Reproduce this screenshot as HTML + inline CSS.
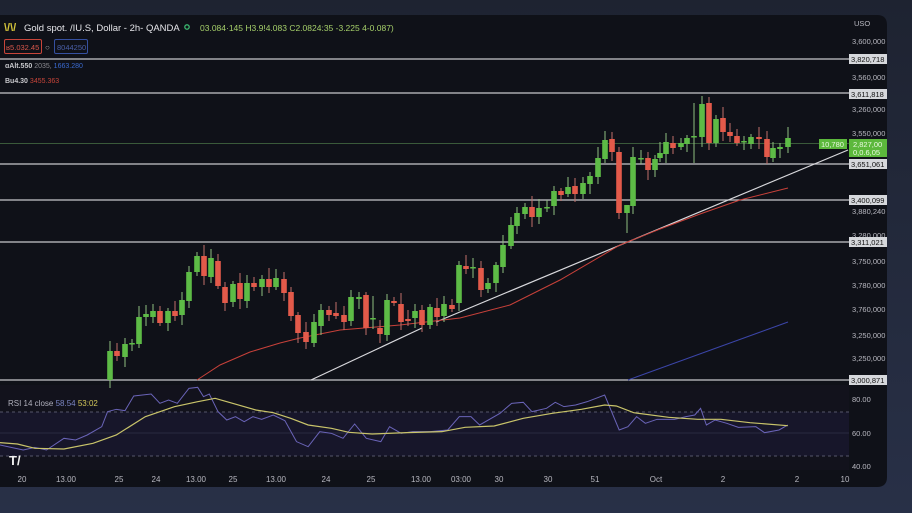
<!DOCTYPE html>
<html><head><meta charset="utf-8"><style>
html,body{margin:0;padding:0;width:912px;height:513px;overflow:hidden;background:#232a3c;font-family:"Liberation Sans",sans-serif}
svg{position:absolute;left:0;top:0}
text{font-family:"Liberation Sans",sans-serif}
</style></head><body>
<svg width="912" height="513" viewBox="0 0 912 513" xmlns="http://www.w3.org/2000/svg">
<defs><linearGradient id="bg" x1="0" y1="0" x2="0" y2="1"><stop offset="0" stop-color="#1e2331"/><stop offset="1" stop-color="#283047"/></linearGradient></defs>
<rect width="912" height="513" fill="url(#bg)"/>
<path d="M0 15 H877 Q887 15 887 25 V477 Q887 487 877 487 H0 Z" fill="#0f1118"/>
<rect x="0" y="385" width="849" height="85" fill="#12121c"/>
<rect x="0" y="412" width="849" height="44" fill="#17162a"/>
<g stroke="#55566a" stroke-dasharray="3,3" stroke-width="1">
<line x1="0" y1="412" x2="849" y2="412"/><line x1="0" y1="456" x2="849" y2="456"/></g>
<line x1="0" y1="433" x2="849" y2="433" stroke="#2a2a40"/>
<g stroke="#c8c8cc" stroke-width="1.2">
<line x1="0" y1="59" x2="849" y2="59"/><line x1="0" y1="93" x2="849" y2="93"/>
<line x1="0" y1="164" x2="849" y2="164"/><line x1="0" y1="200" x2="849" y2="200"/>
<line x1="0" y1="242" x2="849" y2="242"/><line x1="0" y1="380" x2="849" y2="380"/></g>
<line x1="0" y1="143.5" x2="849" y2="143.5" stroke="#3a5a3a" stroke-width="1"/>
<line x1="311" y1="380" x2="422" y2="328" stroke="#d8d8dc" stroke-width="1.2"/>
<line x1="436" y1="322" x2="848" y2="150" stroke="#d8d8dc" stroke-width="1.2"/>
<polyline fill="none" stroke="#c8413a" stroke-width="1" points="197,380 220,365 250,352 280,343 300,338 340,330 400,325 460,318 510,305 560,280 620,245 660,229 700,214 740,200 788,188"/>
<line x1="628" y1="380" x2="788" y2="322" stroke="#3b45a8" stroke-width="1"/>
<g id="c"></g>
<g transform="translate(0,370) scale(0.5814,0.3333)" fill="none">
<polyline vector-effect="non-scaling-stroke" stroke="#6a64b8" stroke-width="1" points="0,225 40,240 60,232 80,240 110,205 130,210 150,195 175,170 185,125 200,118 215,122 230,78 260,72 275,100 290,90 305,100 325,55 340,52 350,80 360,72 375,125 390,150 405,140 420,155 435,140 450,148 470,135 490,152 510,215 530,230 550,185 570,190 590,205 610,162 630,205 655,215 670,170 690,190 710,185 740,185 770,180 790,140 810,140 825,165 860,130 880,100 900,97 915,125 940,115 955,97 970,110 990,105 1010,95 1040,75 1065,180 1080,170 1095,140 1110,160 1130,148 1160,148 1180,140 1195,135 1205,115 1215,165 1230,150 1250,160 1270,172 1300,170 1315,188 1340,180 1355,165"/>
<polyline vector-effect="non-scaling-stroke" stroke="#c9c46a" stroke-width="1.2" points="0,218 30,222 60,235 110,237 160,220 200,195 250,140 300,110 340,95 370,85 400,100 440,120 470,128 500,145 530,165 570,175 600,187 640,192 700,188 760,185 800,172 850,168 900,145 950,130 1000,118 1040,105 1060,108 1090,128 1150,142 1200,148 1240,148 1290,158 1355,167"/>
</g>
<text x="8" y="406" font-size="8" fill="#b0b0bc">RSI 14 close <tspan fill="#7b86c4">58.54</tspan> <tspan fill="#d4c85a">53:02</tspan></text>
<text x="9" y="465" font-size="13" font-weight="bold" fill="#f0f0f0">T/</text>
<g font-size="8" fill="#b8b8c0" text-anchor="middle">
<text x="22" y="482">20</text><text x="66" y="482">13.00</text><text x="119" y="482">25</text><text x="156" y="482">24</text><text x="196" y="482">13.00</text><text x="233" y="482">25</text><text x="276" y="482">13.00</text><text x="326" y="482">24</text><text x="371" y="482">25</text><text x="421" y="482">13.00</text><text x="461" y="482">03:00</text><text x="499" y="482">30</text><text x="548" y="482">30</text><text x="595" y="482">51</text><text x="656" y="482">Oct</text><text x="723" y="482">2</text><text x="797" y="482">2</text><text x="845" y="482">10</text>
</g>
<g font-size="7.5" fill="#b8b8c0">
<text x="854" y="26">USO</text>
<text x="852" y="44">3,600,000</text><text x="852" y="80">3,560,000</text><text x="852" y="112">3,260,000</text><text x="852" y="136">3,550,000</text><text x="852" y="214">3,880,240</text><text x="852" y="238">3,280,000</text><text x="852" y="264">3,750,000</text><text x="852" y="288">3,780,000</text><text x="852" y="312">3,760,000</text><text x="852" y="338">3,250,000</text><text x="852" y="361">3,250,000</text>
<text x="852" y="402">80.00</text><text x="852" y="436">60.00</text><text x="852" y="469">40.00</text>
</g>
<g font-size="7.5" fill="#111">
<rect x="849" y="54" width="38" height="10" fill="#d6d8dc"/><text x="851" y="62">3,820,718</text>
<rect x="849" y="89" width="38" height="10" fill="#d6d8dc"/><text x="851" y="97">3,611,818</text>
<rect x="849" y="159" width="38" height="10" fill="#d6d8dc"/><text x="851" y="167">3,651,061</text>
<rect x="849" y="195" width="38" height="10" fill="#d6d8dc"/><text x="851" y="203">3,400,099</text>
<rect x="849" y="237" width="38" height="10" fill="#d6d8dc"/><text x="851" y="245">3,311,021</text>
<rect x="849" y="375" width="38" height="10" fill="#d6d8dc"/><text x="851" y="383">3,000,871</text>
</g>
<rect x="849" y="139" width="38" height="18" fill="#5cb83c"/>
<rect x="819" y="139" width="28" height="10" fill="#5cb83c"/>
<g font-size="7.5" fill="#e8f8e0"><text x="821" y="147">10,780</text><text x="853" y="147">2,827,00</text><text x="853" y="155">0,0.6,05</text></g>
<text x="4" y="31" font-size="11" font-weight="bold" fill="#d4c43a">\/\/</text>
<text x="24" y="31" font-size="9.5" fill="#e6e6ea">Gold spot. /IU.S, Dollar - 2h- QANDA</text>
<circle cx="187" cy="27" r="2.2" fill="none" stroke="#3bb870" stroke-width="1.3"/>
<text x="200" y="31" font-size="8.5" fill="#a6d06a">03.084·145 H3.9!4.083 C2.0824:35 -3.225 4-0.087)</text>
<rect x="4.5" y="39.5" width="37" height="14" fill="none" stroke="#c8453a" rx="1.5"/>
<text x="6" y="50" font-size="7.5" fill="#d8564a">ʁ5.032.45</text>
<text x="45" y="50" font-size="8" fill="#aaa">○</text>
<rect x="54.5" y="39.5" width="33" height="14" fill="none" stroke="#3550a0" rx="1.5"/>
<text x="57" y="50" font-size="7.5" fill="#4a5fa8">8044250</text>
<text x="5" y="68" font-size="7" fill="#c8c8cc"><tspan font-weight="bold">ɑAlt.550</tspan> <tspan fill="#8a8a90">2035,</tspan> <tspan fill="#3a6ad0">1663.280</tspan></text>
<text x="5" y="83" font-size="7" fill="#c8c8cc"><tspan font-weight="bold">Bu4.30</tspan> <tspan fill="#c8453a">3455.363</tspan></text>
</svg>
<script>
var G="#5dbb46",R="#e35a4a";
var d=[[110,351,380,G],[117,351,356,R],[125,344,357,G],[132,343,344,G],[139,317,344,G],[146,314,317,G],[153,311,317,G],[160,311,323,R],[168,311,323,G],[175,311,316,R],[182,300,315,G],[189,272,301,G],[197,256,272,G],[204,256,276,R],[211,258,277,G],[218,261,286,R],[225,287,303,R],[233,284,302,G],[240,283,299,R],[247,283,301,G],[254,283,287,R],[262,279,287,G],[269,279,287,R],[276,278,287,G],[284,279,293,R],[291,292,316,R],[298,315,333,R],[306,332,342,R],[314,322,343,G],[321,310,326,G],[329,310,315,R],[336,313,316,R],[344,315,322,R],[351,297,321,G],[359,297,299,G],[366,295,328,R],[373,318,319,G],[380,328,334,R],[387,300,335,G],[394,301,303,R],[401,304,322,R],[408,319,321,R],[415,311,318,G],[422,310,325,R],[430,307,325,G],[437,308,317,R],[444,304,316,G],[452,305,309,R],[459,265,303,G],[466,266,269,R],[473,267,268,G],[481,268,290,R],[488,283,289,G],[496,265,283,G],[503,245,267,G],[511,225,246,G],[517,213,226,G],[525,207,214,G],[532,207,217,R],[539,208,217,G],[547,207,208,G],[554,191,206,G],[561,191,195,R],[568,187,194,G],[575,186,194,R],[583,183,194,G],[590,176,184,G],[598,158,177,G],[605,140,159,G],[612,139,152,R],[619,152,213,R],[627,205,213,G],[633,157,206,G],[641,158,159,G],[648,158,170,R],[655,159,170,G],[660,153,158,G],[666,142,154,G],[673,143,148,R],[681,143,147,G],[687,138,144,G],[694,136,137,G],[702,104,137,G],[709,103,143,R],[716,119,143,G],[723,118,132,R],[730,132,136,R],[737,136,143,R],[744,141,142,G],[751,137,144,G],[759,137,139,R],[767,139,157,R],[773,148,158,G],[780,147,149,G],[788,138,147,G]];
var s="",k=0;
d.forEach(function(c){k++;var w1=3+(k*7)%9,w2=3+(k*5)%8;if(c[0]==694){w1=33;w2=26}if(c[0]==373){w1=22;w2=10}if(c[0]==627){w1=0;w2=20}
s+='<line x1="'+c[0]+'" x2="'+c[0]+'" y1="'+(c[1]-w1)+'" y2="'+(c[2]+w2)+'" stroke="'+(c[3]==G?"#8fbf7f":"#c0706a")+'" stroke-width="1"/>';
var h=Math.max(1.5,c[2]-c[1]);s+='<rect x="'+(c[0]-2.8)+'" y="'+c[1]+'" width="5.6" height="'+h+'" fill="'+c[3]+'"/>';});
document.getElementById("c").innerHTML=s;
</script>
</body></html>
